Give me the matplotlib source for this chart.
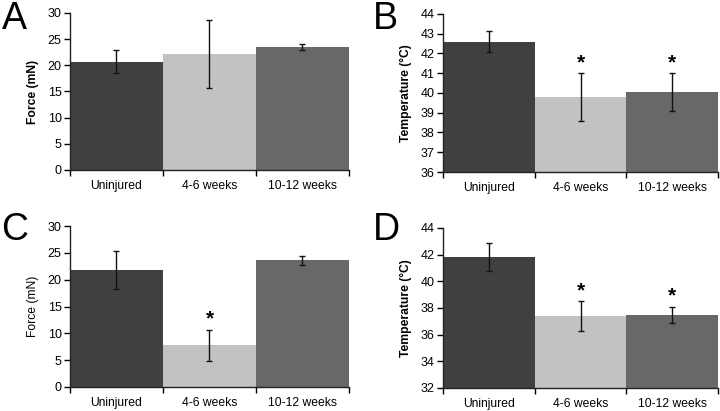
import matplotlib
matplotlib.use("Agg")
import matplotlib.pyplot as plt
import numpy as np

plt.rcParams['font.family'] = ['Liberation Sans', 'DejaVu Sans']

categories = ["Uninjured", "4-6 weeks", "10-12 weeks"]
colors = ["#404040", "#c2c2c2", "#686868"]

force_a = [20.7, 22.1, 23.5]
force_a_err = [2.2, 6.5, 0.65]
temp_b = [42.6, 39.8, 40.05]
temp_b_err = [0.55, 1.2, 0.95]
force_c = [21.8, 7.8, 23.6]
force_c_err = [3.5, 2.9, 0.8]
temp_d = [41.8, 37.4, 37.5]
temp_d_err = [1.05, 1.1, 0.6]

panels = [
    dict(letter="A", vals=force_a, err=force_a_err, ylim=(0, 30), ystep=5,
         ylabel="Force (mN)", bold=True, stars=[False, False, False],
         pos=[0.0972, 0.5864, 0.3875, 0.382], lpos=(0.002, 0.998)),
    dict(letter="B", vals=temp_b, err=temp_b_err, ylim=(36, 44), ystep=1,
         ylabel="Temperature (\u00b0C)", bold=True, stars=[False, True, True],
         pos=[0.6153, 0.5815, 0.382, 0.3845], lpos=(0.518, 0.998)),
    dict(letter="C", vals=force_c, err=force_c_err, ylim=(0, 30), ystep=5,
         ylabel="Force (mN)", bold=False, stars=[False, True, False],
         pos=[0.0972, 0.0584, 0.3875, 0.3916], lpos=(0.002, 0.483)),
    dict(letter="D", vals=temp_d, err=temp_d_err, ylim=(32, 44), ystep=2,
         ylabel="Temperature (\u00b0C)", bold=True, stars=[False, True, True],
         pos=[0.6153, 0.056, 0.382, 0.3893], lpos=(0.518, 0.483)),
]

fig = plt.figure(figsize=(7.2, 4.11), dpi=100)
x = np.arange(len(categories))
for p in panels:
    ax = fig.add_axes(p["pos"])
    lo = p["ylim"][0]
    heights = [v - lo for v in p["vals"]]
    ax.bar(x, heights, width=1.0, bottom=lo, color=colors, edgecolor="none")
    ax.errorbar(x, p["vals"], yerr=p["err"], fmt="none", ecolor="#111111",
                elinewidth=1.0, capsize=2.0, capthick=1.0)
    rng = p["ylim"][1] - p["ylim"][0]
    for i, s in enumerate(p["stars"]):
        if s:
            ax.text(x[i], p["vals"][i] + p["err"][i] + 0.005 * rng, "*",
                    ha="center", va="bottom", fontsize=15, fontweight="bold")
    ax.set_xlim(-0.5, 2.5)
    ax.set_ylim(*p["ylim"])
    ax.set_yticks(np.arange(p["ylim"][0], p["ylim"][1] + 0.01, p["ystep"]))
    ax.set_xticks([-0.5, 0.5, 1.5, 2.5])
    ax.set_xticklabels([])
    ax.set_xticks(x, minor=True)
    ax.set_xticklabels(categories, minor=True)
    ax.tick_params(axis="x", which="minor", length=0, pad=7.5, labelsize=8.7)
    ax.tick_params(axis="x", which="major", length=4, width=1, direction="out")
    ax.tick_params(axis="y", length=4, width=1, direction="out", labelsize=9, pad=2)
    for side in ["top", "right"]:
        ax.spines[side].set_visible(False)
    for side in ["left", "bottom"]:
        ax.spines[side].set_linewidth(1.0)
        ax.spines[side].set_color("#222222")
    ax.set_ylabel(p["ylabel"], fontsize=8.7,
                  fontweight="bold" if p["bold"] else "normal", labelpad=6)
    fig.text(p["lpos"][0], p["lpos"][1], p["letter"], fontsize=27,
             ha="left", va="top")

fig.savefig("out.png", dpi=100)
